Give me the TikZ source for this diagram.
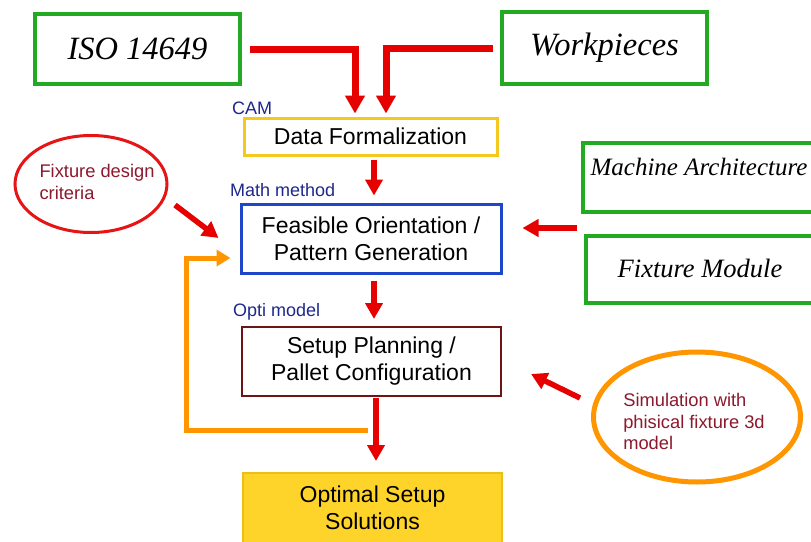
\documentclass[tikz,border=0pt]{standalone}
\usepackage{fontspec}
\setmainfont{Liberation Serif}
\setsansfont{Liberation Sans}
\usetikzlibrary{arrows.meta,calc,shapes.geometric}

\definecolor{boxgreen}{RGB}{34,170,34}
\definecolor{flowred}{RGB}{230,0,0}
\definecolor{loopor}{RGB}{255,150,0}
\definecolor{boxblue}{RGB}{30,70,200}
\definecolor{boxmaroon}{RGB}{110,20,20}
\definecolor{boxgold}{RGB}{245,200,30}
\definecolor{solfill}{RGB}{255,212,42}
\definecolor{solline}{RGB}{238,190,20}
\definecolor{tagblue}{RGB}{30,40,140}
\definecolor{notered}{RGB}{140,25,45}
\definecolor{ringred}{RGB}{230,20,20}

\tikzset{
  inbox/.style={draw=boxgreen, line width=4pt, rectangle, inner sep=0pt,
    font=\itshape\fontsize{32.5}{36}\selectfont},
  flowbox/.style={rectangle, inner sep=0pt, align=center,
    font=\sffamily\fontsize{23}{27}\selectfont},
  tag/.style={anchor=west, inner sep=0pt, text=tagblue,
    font=\sffamily\fontsize{18}{20}\selectfont},
  note/.style={align=left, inner sep=0pt, text=notered,
    font=\sffamily\fontsize{18.3}{21.5}\selectfont},
  bigflow/.style={draw=flowred, line width=7pt,
    -{Triangle[length=18pt,width=19pt]}},
  flow/.style={draw=flowred, line width=5.5pt,
    -{Triangle[length=16pt,width=17pt]}},
  loopflow/.style={draw=loopor, line width=5pt,
    -{Triangle[length=14pt,width=16pt]}},
}

\begin{document}
\begin{tikzpicture}[x=1pt,y=-1pt]
  \useasboundingbox (0,0) rectangle (811,541);
  \clip (0,0) rectangle (811,541);
  \fill[white] (0,0) rectangle (811,541);

  % input sources
  \node[inbox, minimum width=205pt, minimum height=70pt] (iso) at (137.5,49) {ISO 14649};
  \node[inbox, minimum width=205pt, minimum height=72pt] (wp) at (604.5,48) {Workpieces};

  % main process chain
  \node[flowbox, draw=boxgold, line width=3pt, minimum width=253pt, minimum height=37pt]
    (data) at (370.5,136.5) {Data Formalization};
  \node[flowbox, draw=boxblue, line width=3pt, minimum width=260pt, minimum height=69pt]
    (feas) at (371,238.5) {Feasible Orientation /\\Pattern Generation};
  \node[flowbox, draw=boxmaroon, line width=2pt, minimum width=259pt, minimum height=69pt]
    (setup) at (371.5,361.5) {Setup Planning /\\Pallet Configuration};
  \node[flowbox, draw=solline, fill=solfill, line width=2pt, minimum width=259pt, minimum height=70pt]
    (opt) at (372.5,508) {Optimal Setup\\Solutions};

  % method tags
  \node[tag] (tcam) at (232,108) {CAM};
  \node[tag] (tmath) at (230,190) {Math method};
  \node[tag] (topti) at (233,312) {Opti model};

  % machine / fixture resources (open to the right)
  \node[draw=boxgreen, line width=4pt, rectangle, inner sep=0pt,
    minimum width=232pt, minimum height=69pt] (ma) at (699,177.5) {};
  \node[inner sep=0pt, font=\itshape\fontsize{25}{28}\selectfont] (matext) at (699,167)
    {Machine Architecture};
  \node[draw=boxgreen, line width=4pt, rectangle, inner sep=0pt,
    minimum width=229pt, minimum height=67pt] (fm) at (700.5,269.5) {};
  \node[inner sep=0pt, font=\itshape\fontsize{26.5}{30}\selectfont] (fmtext) at (700,268)
    {Fixture Module};

  % side notes
  \node[draw=ringred, line width=3pt, ellipse, minimum width=152pt, minimum height=97pt]
    (fdc) at (91,184) {};
  \node[note] (fdctext) at (97,182) {Fixture design\\criteria};
  \node[draw=loopor, line width=5pt, ellipse, minimum width=207pt, minimum height=130pt]
    (sim) at (697,417) {};
  \node[note] (simtext) at (694,421.5) {Simulation with\\phisical fixture 3d\\model};

  % inputs into data formalization
  \draw[bigflow, shorten <=8pt, shorten >=3pt] (iso.east) -| ($(data.north)+(-15.5,0)$);
  \draw[bigflow, shorten <=7pt, shorten >=3pt] (wp.west) -| ($(data.north)+(15.5,0)$);

  % main chain
  \draw[flow, shorten <=3pt, shorten >=7pt] ($(data.south)+(3.5,0)$) -- ($(feas.north)+(3,0)$);
  \draw[flow, shorten <=6pt, shorten >=7pt] ($(feas.south)+(3,0)$) -- ($(setup.north)+(2.5,0)$);
  \draw[flow, shorten <=1pt, shorten >=11pt] ($(setup.south)+(4.5,0)$) -- ($(opt.north)+(3.5,0)$);

  % resources into orientation generation
  \coordinate (mfjoin) at (577,228);
  \draw[flow, shorten >=20pt] (mfjoin) -- (feas.east |- mfjoin);

  % design criteria into orientation generation
  \draw[flow] ($(fdc)+(84,21)$) -- ($(feas.west)+(-21,-0.5)$);

  % simulation into setup planning
  \draw[flow] ($(sim)+(-117,-19)$) -- ($(setup.east)+(29,12.5)$);

  % feedback loop
  \coordinate (fb) at (368,430);
  \coordinate (fbcorner) at (186,430);
  \draw[loopflow, shorten >=9pt] (fb) -- (fbcorner) |- ($(feas.west)+(0,19.5)$);
\end{tikzpicture}
\end{document}
